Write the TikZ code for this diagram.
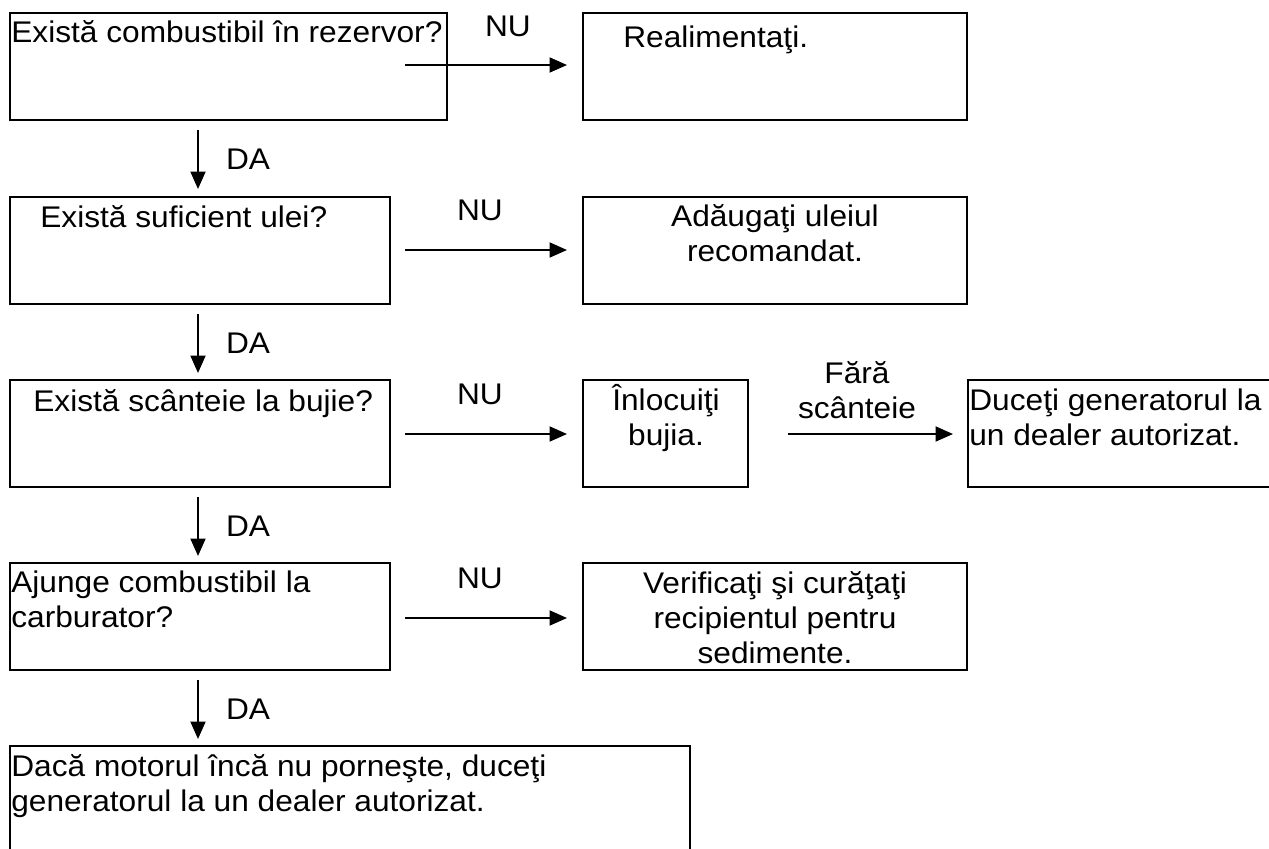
\documentclass[tikz,border=0pt]{standalone}
\usepackage{fontspec}
\setmainfont{Liberation Sans}[FakeStretch=1.06]
\usetikzlibrary{arrows.meta,positioning}
\tikzset{
  box/.style={draw,line width=1.1pt,inner sep=0pt},
  txt/.style={font=\fontsize{17}{19.9}\selectfont,inner sep=0pt},
  arr/.style={-{Triangle[length=3.5mm,width=3mm]},line width=1.1pt},
}

\begin{document}
\begin{tikzpicture}[x=0.02cm,y=-0.02cm]
  \useasboundingbox (0,0) rectangle (1269,849);
  % question column
  \node[box,minimum width=8.74cm,minimum height=2.14cm] (q1) at (228.5,66.5) {};
  \node[box,minimum width=7.6cm,minimum height=2.14cm] (q2) at (200,250.5) {};
  \node[box,minimum width=7.6cm,minimum height=2.14cm] (q3) at (200,433.5) {};
  \node[box,minimum width=7.6cm,minimum height=2.14cm] (q4) at (200,616.5) {};
  \node[box,minimum width=13.6cm,minimum height=2.48cm] (q5) at (350,808) {};
  % remedy column
  \node[box,minimum width=7.68cm,minimum height=2.14cm] (r1) at (775,66.5) {};
  \node[box,minimum width=7.68cm,minimum height=2.14cm] (r2) at (775,250.5) {};
  \node[box,minimum width=3.3cm,minimum height=2.14cm] (r3) at (665.5,433.5) {};
  \node[box,minimum width=6.34cm,minimum height=2.14cm] (r4) at (1126.5,433.5) {};
  \node[box,minimum width=7.68cm,minimum height=2.14cm] (r5) at (775,616.5) {};

  \node[txt,anchor=base west] (q1t) at (11,42) {Există combustibil în rezervor?};
  \node[txt,anchor=base west] (q2t) at (40,227) {Există suficient ulei?};
  \node[txt,anchor=base west] (q3t) at (33,411) {Există scânteie la bujie?};
  \node[txt,anchor=base west,align=left] (q4t) at (11,627) {Ajunge combustibil la\\carburator?};
  \node[txt,anchor=base west,align=left] (q5t) at (11,811)
    {Dacă motorul încă nu porneşte, duceţi\\generatorul la un dealer autorizat.};
  \node[txt,anchor=base west] (r1t) at (623,47) {Realimentaţi.};
  \node[txt,anchor=base,align=center] (r2t) at (775,261) {Adăugaţi uleiul\\recomandat.};
  \node[txt,anchor=base,align=center] (r3t) at (666,445) {Înlocuiţi\\bujia.};
  \node[txt,anchor=base west,align=left] (r4t) at (969,445) {Duceţi generatorul la\\un dealer autorizat.};
  \node[txt,anchor=base,align=center] (r5t) at (775,663)
    {Verificaţi şi curăţaţi\\recipientul pentru\\sedimente.};

  % NU branches
  \foreach \i/\y/\x/\h in {1/65/508/26, 2/250/480/210, 3/434/480/394, 4/618/480/578}{
    \coordinate (n\i a) at (405,\y);
    \coordinate (n\i b) at (567,\y);
    \draw[arr] (n\i a) -- (n\i b);
    \node[txt] (nu\i) at (\x,\h) {NU};
  }
  % DA steps
  \foreach \i/\y in {1/130, 2/314, 3/497, 4/680}{
    \coordinate (d\i a) at (198,\y);
    \coordinate (d\i b) at (198,\y+59);
    \draw[arr] (d\i a) -- (d\i b);
    \node[txt] (da\i) at (248,\y+29) {DA};
  }
  \coordinate (fa) at (788,434);
  \coordinate (fb) at (953,434);
  \draw[arr] (fa) -- (fb);
  \node[txt,anchor=base,align=center] (fs) at (857,418) {Fără\\scânteie};
\end{tikzpicture}
\end{document}
